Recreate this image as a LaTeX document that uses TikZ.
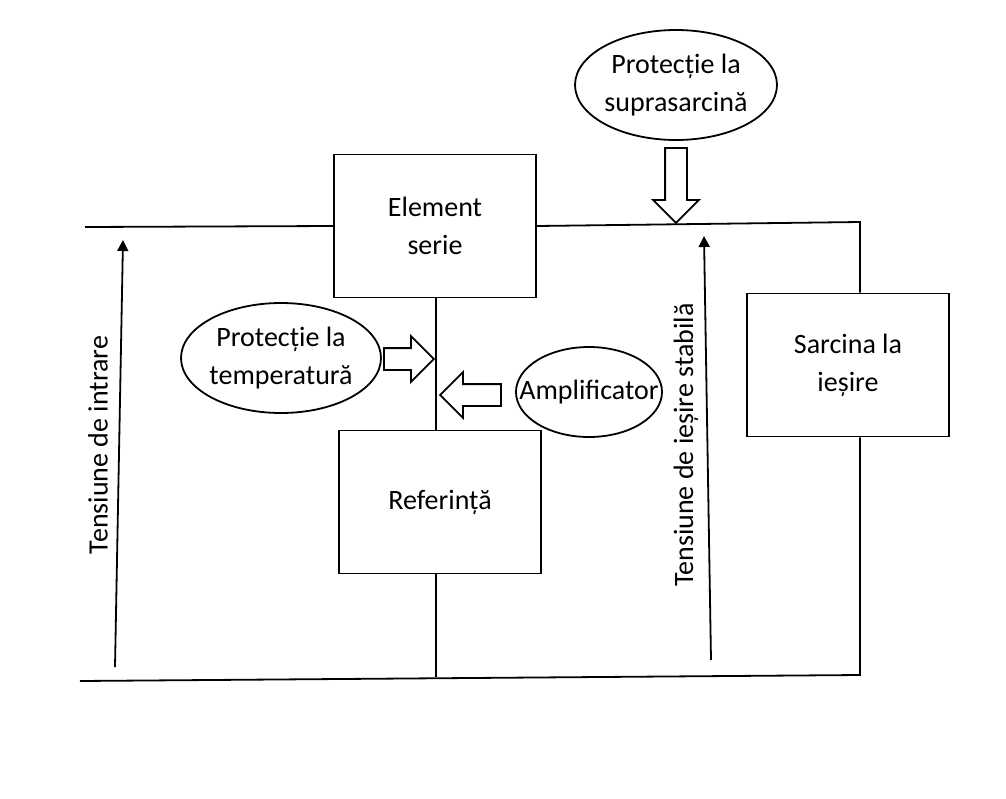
\documentclass[tikz,border=0pt]{standalone}
\usepackage{fontspec}
\setmainfont{Carlito}
\usetikzlibrary{shapes.geometric,shapes.arrows,arrows.meta}

\begin{document}
\begin{tikzpicture}[x=1pt,y=-1pt,line width=1.8pt,
    every node/.style={font=\fontsize{28}{38}\selectfont,align=center},
    blok/.style={draw,rectangle,minimum width=202pt,minimum height=143pt},
    bigarrow/.style={draw,single arrow,single arrow head extend=12pt,
      inner xsep=0pt,inner ysep=10pt,minimum height=#1}]
    \useasboundingbox (0,0) rectangle (1006,798);
    % blocks
    \node[blok] (elem) at (435,226) {Element\\serie};
    \node[blok] (ref) at (440,502) {Referință};
    \node[blok] (sarc) at (848,365) {Sarcina la\\ieșire};
    % ovals
    \node (supra) at (676,85) {Protecție la\\suprasarcină};
    \node (temp) at (281,358) {Protecție la\\temperatură};
    \node (ampl) at (589,392) {Amplificator};
    \draw (supra) ellipse [x radius=101, y radius=55];
    \draw (temp) ellipse [x radius=100, y radius=55];
    \draw (ampl) ellipse [x radius=73, y radius=45];
    % block arrows
    \node[bigarrow=75pt,rotate=-90] (a1) at (676,180) {};
    \node[bigarrow=50pt] (a2) at (403.5,359) {};
    \node[bigarrow=61pt,rotate=180] (a3) at (476,395) {};
    % wires
    \coordinate (inTop) at (85,227);
    \coordinate (inBot) at (80,681);
    \coordinate (outTop) at (860,222);
    \coordinate (outBot) at (860,675);
    \draw (inTop) -- (elem.west);
    \draw (elem.east) -- (outTop) -- (outTop |- sarc.north);
    \draw (outTop |- sarc.south) -- (outBot) -- (inBot);
    \draw (elem.south -| 436,0) -- (ref.north -| 436,0);
    \draw (ref.south -| 436,0) -- (436,677);
    % voltages
    \coordinate (vinA) at (115,667);
    \coordinate (vinB) at (123,240);
    \coordinate (voutA) at (711,660);
    \coordinate (voutB) at (704,236);
    \draw[-{Triangle[length=11pt,width=11pt]}] (vinA) -- (vinB);
    \draw[-{Triangle[length=11pt,width=11pt]}] (voutA) -- (voutB);
    \node[rotate=90] (vin) at (98,445) {Tensiune de intrare};
    \node[rotate=90] (vout) at (686,445) {Tensiune de ieșire stabilă};
\end{tikzpicture}
\end{document}
